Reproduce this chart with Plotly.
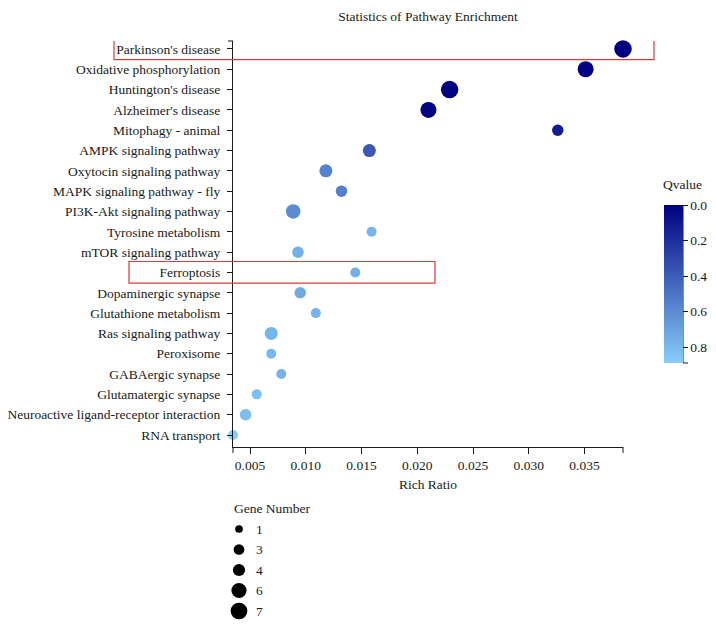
import plotly.graph_objects as go

# ---------------- data ----------------
pathways = [
    "Parkinson's disease", "Oxidative phosphorylation", "Huntington's disease",
    "Alzheimer's disease", "Mitophagy - animal", "AMPK signaling pathway",
    "Oxytocin signaling pathway", "MAPK signaling pathway - fly",
    "PI3K-Akt signaling pathway", "Tyrosine metabolism", "mTOR signaling pathway",
    "Ferroptosis", "Dopaminergic synapse", "Glutathione metabolism",
    "Ras signaling pathway", "Peroxisome", "GABAergic synapse",
    "Glutamatergic synapse", "Neuroactive ligand-receptor interaction",
    "RNA transport",
]
rich_ratio = [0.03845, 0.0351, 0.0229, 0.0210, 0.0326, 0.0157, 0.0118, 0.0132,
              0.00887, 0.0159, 0.0093, 0.01444, 0.0095, 0.0109, 0.0069, 0.0069,
              0.0078, 0.0056, 0.0046, 0.00347]
gene_number = [7, 6, 7, 6, 3, 4, 4, 3, 5, 2, 3, 2, 3, 2, 4, 2, 2, 2, 3, 2]
qvalue = [0.0, 0.0, 0.0, 0.02, 0.13, 0.38, 0.56, 0.55, 0.60, 0.78, 0.76, 0.76,
          0.74, 0.78, 0.78, 0.80, 0.78, 0.82, 0.82, 0.89]
legend_counts = [1, 3, 4, 6, 7]
x_tick_values = [0.005, 0.010, 0.015, 0.020, 0.025, 0.030, 0.035]
qvalue_ticks = [0.0, 0.2, 0.4, 0.6, 0.8]
highlighted = ["Parkinson's disease", "Ferroptosis"]
q_max = 0.89

# ---------------- layout helpers ----------------
# the page body adds an 8px margin, so the figure is 8px smaller than the window
OFF = 8
W, H = 716 - OFF, 630 - OFF
PLOT_L, PLOT_R, PLOT_T, PLOT_B = 233, 623, 41, 622   # screen pixels
ML, MR = PLOT_L - OFF, W - (PLOT_R - OFF)
MT, MB = PLOT_T - OFF, H - (PLOT_B - OFF)
PW = PLOT_R - PLOT_L
PH = PLOT_B - PLOT_T


def px(xs):
    return (xs - PLOT_L) / PW


def py(ys):
    return (PLOT_B - ys) / PH


FONT = "Liberation Serif, Times New Roman, serif"
TXT = "#1a1a1a"
FS = 13.5


def size_of(n):
    return 7 + 1.5 * n


fig = go.Figure()

fig.add_trace(go.Scatter(
    x=rich_ratio, y=pathways, mode="markers",
    marker=dict(
        size=[size_of(n) for n in gene_number],
        color=[-q for q in qvalue], cmin=-q_max, cmax=0,
        colorscale=[[0, "#87CEFA"], [1, "#000080"]],
        line=dict(width=0), opacity=1,
        colorbar=dict(
            x=px(664), xanchor="left", xpad=0,
            y=py(284), yanchor="middle", ypad=0,
            len=158, lenmode="pixels", thickness=19, thicknessmode="pixels",
            outlinewidth=0, ticks="outside", ticklen=5, tickcolor=TXT,
            tickvals=[-t for t in qvalue_ticks],
            ticktext=[f"{t:.1f}" for t in qvalue_ticks],
            tickfont=dict(family=FONT, size=FS, color=TXT),
        ),
    ),
    cliponaxis=False, showlegend=False,
))

# size legend drawn on its own hidden axes
fig.add_trace(go.Scatter(
    x=[0] * len(legend_counts), y=list(range(len(legend_counts))),
    mode="markers",
    marker=dict(size=[size_of(n) - 0.8 for n in legend_counts], color="#000000",
                line=dict(width=0), opacity=1),
    xaxis="x2", yaxis="y2", cliponaxis=False, showlegend=False,
    hoverinfo="skip",
))

annotations = [
    dict(x=1, y=i, xref="x2", yref="y2", text=str(n), xanchor="left",
         yanchor="middle", showarrow=False,
         font=dict(family=FONT, size=FS, color=TXT))
    for i, n in enumerate(legend_counts)
]
annotations.append(dict(x=px(231.5), y=py(508), xref="paper", yref="paper",
                        text="Gene Number", xanchor="left", yanchor="middle",
                        showarrow=False,
                        font=dict(family=FONT, size=FS, color=TXT)))
annotations.append(dict(x=px(682), y=py(184), xref="paper", yref="paper",
                        text="Qvalue", xanchor="center", yanchor="middle",
                        showarrow=False,
                        font=dict(family=FONT, size=FS, color=TXT)))

order = pathways[::-1]
shapes = []
rect_x = {"Parkinson's disease": (114, 654), "Ferroptosis": (129, 435)}
for name in highlighted:
    idx = order.index(name)
    x0, x1 = rect_x[name]
    shapes.append(dict(type="rect", xref="paper", yref="y",
                       x0=px(x0), x1=px(x1), y0=idx - 0.53, y1=idx + 0.54,
                       line=dict(color="#DD3B3B", width=1.2),
                       fillcolor="rgba(0,0,0,0)", layer="above"))
# outer end ticks of axes
for xe in (0, 1):
    shapes.append(dict(type="line", xref="paper", yref="y domain",
                       x0=xe, x1=xe, ysizemode="pixel", yanchor=0, y0=0, y1=-6,
                       line=dict(color=TXT, width=1)))
shapes.append(dict(type="line", xref="x domain", yref="y domain",
                   xsizemode="pixel", xanchor=0, x0=0, x1=-5, y0=1, y1=1,
                   line=dict(color=TXT, width=1)))
# colorbar axis line
shapes.append(dict(type="line", xref="paper", yref="paper",
                   x0=px(683), x1=px(683), y0=py(205), y1=py(363),
                   line=dict(color=TXT, width=1)))
shapes.append(dict(type="line", xref="paper", yref="paper",
                   x0=px(683), x1=px(688), y0=py(363), y1=py(363),
                   line=dict(color=TXT, width=1)))

fig.update_layout(
    width=W, height=H, autosize=False,
    margin=dict(l=ML, r=MR, t=MT, b=MB, pad=0, autoexpand=False),
    paper_bgcolor="white", plot_bgcolor="white",
    font=dict(family=FONT, size=FS, color=TXT),
    title=dict(text="Statistics of Pathway Enrichment", x=0.5, xref="paper",
               y=1 - (16 - OFF) / H, yref="container", yanchor="middle",
               font=dict(family=FONT, size=FS, color=TXT)),
    xaxis=dict(domain=[0, 1], anchor="y",
               range=[min(rich_ratio), max(rich_ratio)],
               tickvals=x_tick_values, tickformat=".3f",
               ticks="outside", ticklen=6, tickcolor=TXT,
               showline=True, linecolor=TXT, linewidth=1,
               showgrid=False, zeroline=False,
               title=dict(text="Rich Ratio", standoff=7,
                          font=dict(family=FONT, size=FS, color=TXT)),
               tickfont=dict(family=FONT, size=FS, color=TXT)),
    yaxis=dict(domain=[py(447), 1], anchor="x",
               categoryorder="array", categoryarray=order,
               range=[-0.59, len(order) - 1 + 0.39],
               ticks="outside", ticklen=5, tickcolor=TXT,
               ticklabelstandoff=4,
               showline=True, linecolor=TXT, linewidth=1,
               showgrid=False, zeroline=False,
               tickfont=dict(family=FONT, size=FS, color=TXT)),
    xaxis2=dict(domain=[0, 0.1], anchor="y2", range=[-0.4, 2.2],
                visible=False, fixedrange=True),
    yaxis2=dict(domain=[0, py(505.8)], anchor="x2",
                range=[(622 - 529) / 20.5, (505.8 - 529) / 20.5],
                visible=False, fixedrange=True),
    annotations=annotations,
    shapes=shapes,
)

fig.write_html("out.html")
